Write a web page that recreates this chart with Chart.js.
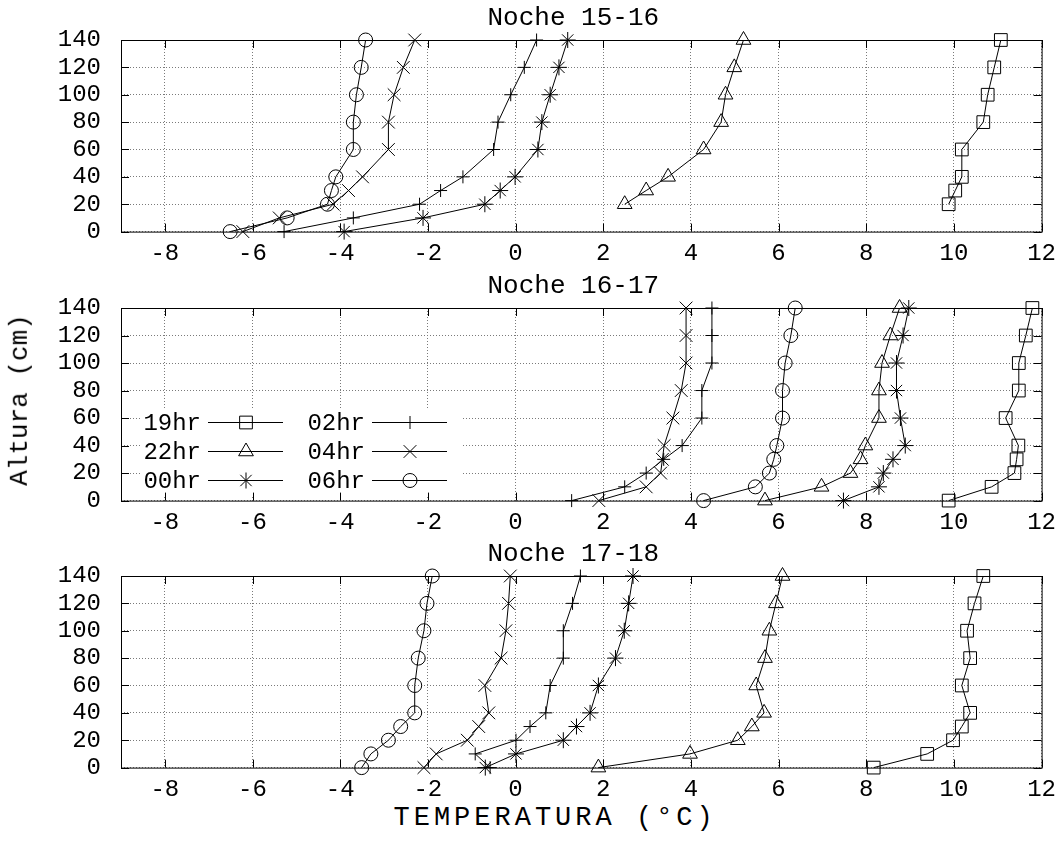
<!DOCTYPE html>
<html>
<head>
<meta charset="utf-8">
<script src="https://cdn.jsdelivr.net/npm/chart.js@4/dist/chart.umd.min.js"></script>
<style>
    body { margin: 0; background: #fff; width: 1064px; height: 857px; position: relative; overflow: hidden; font-family: 'Liberation Mono', monospace; }
    canvas { position: absolute; left: 0; }
    .titulo-eje { position: absolute; font-size: 26px; color: #000; white-space: nowrap; line-height: 1; }
    #eje-x { font-size: 27px; letter-spacing: 4px; }
</style>
</head>
<body>
<canvas id="panel0"></canvas>
<canvas id="panel1"></canvas>
<canvas id="panel2"></canvas>
<div class="titulo-eje" id="eje-x">TEMPERATURA (°C)</div>
<div class="titulo-eje" id="eje-y">Altura (cm)</div>
<script>
// ==================== DATOS ====================

const titulos = ['Noche 15-16', 'Noche 16-17', 'Noche 17-18'];
const horas = ['19hr', '22hr', '00hr', '02hr', '04hr', '06hr'];
const xTicks = [-8, -6, -4, -2, 0, 2, 4, 6, 8, 10, 12];
const yTicks = [0, 20, 40, 60, 80, 100, 120, 140];

const alturas = [0, 10, 20, 30, 40, 60, 80, 100, 120, 140];
const alturasSin0 = [20, 30, 40, 60, 80, 100, 120, 140]; // 19hr y 22hr de la primera noche

// Noche 15-16
const n1_19 = [9.88, 10.03, 10.18, 10.18, 10.67, 10.77, 10.92, 11.07];
const n1_22 = [2.49, 2.98, 3.48, 4.29, 4.69, 4.79, 4.99, 5.20];
const n1_00 = [-3.91, -2.11, -0.70, -0.35, -0.01, 0.51, 0.60, 0.79, 0.99, 1.19];
const n1_02 = [-5.28, -3.70, -2.19, -1.71, -1.20, -0.50, -0.40, -0.11, 0.20, 0.48];
const n1_04 = [-6.22, -5.39, -4.16, -3.81, -3.49, -2.90, -2.90, -2.77, -2.56, -2.30];
const n1_06 = [-6.51, -5.21, -4.29, -4.20, -4.10, -3.70, -3.70, -3.63, -3.52, -3.42];

// Noche 16-17
const n2_19 = [9.88, 10.86, 11.38, 11.43, 11.47, 11.18, 11.48, 11.48, 11.64, 11.79];
const n2_22 = [5.69, 6.98, 7.64, 7.87, 7.98, 8.29, 8.29, 8.36, 8.55, 8.76];
const n2_00 = [7.48, 8.29, 8.39, 8.61, 8.89, 8.78, 8.69, 8.69, 8.84, 8.97];
const n2_02 = [1.28, 2.49, 2.98, 3.38, 3.80, 4.25, 4.25, 4.48, 4.48, 4.48];
const n2_04 = [1.90, 2.98, 3.31, 3.35, 3.39, 3.59, 3.78, 3.89, 3.89, 3.89];
const n2_06 = [4.29, 5.47, 5.79, 5.89, 5.96, 6.09, 6.09, 6.15, 6.28, 6.38];

// Noche 17-18
const n3_19 = [8.17, 9.39, 9.98, 10.18, 10.37, 10.18, 10.37, 10.30, 10.47, 10.67];
const n3_22 = [1.89, 3.98, 5.07, 5.39, 5.67, 5.49, 5.69, 5.79, 5.94, 6.09];
const n3_00 = [-0.69, 0.01, 1.09, 1.39, 1.70, 1.89, 2.28, 2.48, 2.58, 2.68];
const n3_02 = [-0.58, -0.92, 0.01, 0.33, 0.69, 0.79, 1.09, 1.09, 1.30, 1.48];
const n3_04 = [-2.09, -1.81, -1.10, -0.84, -0.61, -0.70, -0.33, -0.22, -0.16, -0.12];
const n3_06 = [-3.51, -3.30, -2.90, -2.62, -2.30, -2.30, -2.22, -2.09, -2.02, -1.90];

const noches = [
    { temps: [n1_19, n1_22, n1_00, n1_02, n1_04, n1_06], alts: [alturasSin0, alturasSin0, alturas, alturas, alturas, alturas] },
    { temps: [n2_19, n2_22, n2_00, n2_02, n2_04, n2_06], alts: [alturas, alturas, alturas, alturas, alturas, alturas] },
    { temps: [n3_19, n3_22, n3_00, n3_02, n3_04, n3_06], alts: [alturas, alturas, alturas, alturas, alturas, alturas] }
];

// ==================== ESTILO ====================

const marcadores = ['rect', 'triangle', 'star', 'cross', 'crossRot', 'circle'];
const radios = [9, 8.5, 8, 6.5, 9, 7];
const FUENTE = 'Liberation Mono';
const areas = [
    { top: 40, alto: 192 },
    { top: 308, alto: 193 },
    { top: 576, alto: 192 }
];

// Marco, marcas interiores, título y leyenda (estilo gnuplot)
const marcoPlugin = {
    id: 'marco',
    beforeDatasetsDraw(chart, args, opts) {
        const { ctx, chartArea: a, scales: { x, y } } = chart;
        ctx.save();

        if (opts.leyenda) {
            ctx.fillStyle = '#fff';
            ctx.fillRect(a.left + 19, a.top + 100, 323, 87);
            ctx.strokeStyle = '#000';
            ctx.lineWidth = 1;
            ctx.fillStyle = '#000';
            ctx.font = `24px "${FUENTE}"`;
            ctx.textAlign = 'right';
            ctx.textBaseline = 'middle';
            horas.forEach((h, k) => {
                const col = Math.floor(k / 3);
                const fila = k % 3;
                const yy = Math.round(a.top + 114 + fila * 28.8) + 0.5;
                const x0 = a.left + 87 + col * 164;
                ctx.fillText(h, x0 - 7, yy + 1);
                ctx.beginPath();
                ctx.moveTo(x0, yy);
                ctx.lineTo(x0 + 75, yy);
                ctx.stroke();
                ctx.fillStyle = 'rgba(0,0,0,0)';
                Chart.helpers.drawPoint(ctx, { pointStyle: marcadores[k], radius: radios[k], rotation: 0, borderWidth: 1 }, x0 + 38, yy);
                ctx.fillStyle = '#000';
            });
        }

        ctx.strokeStyle = '#000';
        ctx.lineWidth = 1;
        ctx.beginPath();
        xTicks.forEach(v => {
            const px = Math.round(x.getPixelForValue(v)) + 0.5;
            ctx.moveTo(px, a.top); ctx.lineTo(px, a.top + 8);
            ctx.moveTo(px, a.bottom); ctx.lineTo(px, a.bottom - 8);
        });
        yTicks.forEach(v => {
            const py = Math.round(y.getPixelForValue(v)) + 0.5;
            ctx.moveTo(a.left, py); ctx.lineTo(a.left + 8, py);
            ctx.moveTo(a.right, py); ctx.lineTo(a.right - 8, py);
        });
        ctx.stroke();
        ctx.strokeRect(a.left + 0.5, a.top + 0.5, a.width, a.height);

        ctx.fillStyle = '#000';
        ctx.font = `26px "${FUENTE}"`;
        ctx.textAlign = 'center';
        ctx.textBaseline = 'middle';
        ctx.fillText(opts.titulo, (a.left + a.right) / 2 - 8, a.top - 22);
        ctx.restore();
    }
};

function crearPanel(i) {
    const canvas = document.getElementById('panel' + i);
    const area = areas[i];
    canvas.width = 1064;
    canvas.height = 40 + area.alto + 34;
    canvas.style.top = (area.top - 40) + 'px';

    const noche = noches[i];
    const datasets = horas.map((h, k) => ({
        label: h,
        data: noche.temps[k].map((t, j) => ({ x: t, y: noche.alts[k][j] })),
        showLine: true,
        borderColor: '#000',
        borderWidth: 1,
        pointStyle: marcadores[k],
        pointRadius: radios[k],
        pointBorderColor: '#000',
        pointBackgroundColor: 'rgba(0,0,0,0)',
        pointBorderWidth: 1,
        clip: false
    }));

    const fuenteTicks = { family: FUENTE, size: 24 };

    new Chart(canvas, {
        type: 'scatter',
        data: { datasets },
        options: {
            responsive: false,
            animation: false,
            devicePixelRatio: 1,
            layout: { padding: { top: 40, right: 19, left: 0, bottom: 0 } },
            plugins: {
                legend: { display: false },
                tooltip: { enabled: false },
                marco: { titulo: titulos[i], leyenda: i === 1 }
            },
            scales: {
                x: {
                    type: 'linear',
                    min: -9,
                    max: 12,
                    afterBuildTicks: s => { s.ticks = xTicks.map(v => ({ value: v })); },
                    afterFit: s => { s.height = 34; },
                    grid: { color: '#7a7a7a', lineWidth: 1, drawTicks: false },
                    border: { display: false, dash: [1, 2] },
                    ticks: { color: '#000', font: fuenteTicks, padding: 8, maxRotation: 0, autoSkip: false }
                },
                y: {
                    type: 'linear',
                    min: 0,
                    max: 140,
                    afterBuildTicks: s => { s.ticks = yTicks.map(v => ({ value: v })); },
                    afterFit: s => { s.width = 121; },
                    grid: { color: '#7a7a7a', lineWidth: 1, drawTicks: false },
                    border: { display: false, dash: [1, 2] },
                    ticks: { color: '#000', font: fuenteTicks, padding: 20, autoSkip: false }
                }
            }
        },
        plugins: [marcoPlugin]
    });
}

[0, 1, 2].forEach(crearPanel);

// Títulos de ejes comunes
const ejeX = document.getElementById('eje-x');
ejeX.style.left = (555 - ejeX.offsetWidth / 2) + 'px';
ejeX.style.top = (818 - ejeX.offsetHeight / 2) + 'px';
const ejeY = document.getElementById('eje-y');
ejeY.style.left = (20 - ejeY.offsetWidth / 2) + 'px';
ejeY.style.top = (400 - ejeY.offsetHeight / 2) + 'px';
ejeY.style.transform = 'rotate(-90deg)';
</script>
</body>
</html>
